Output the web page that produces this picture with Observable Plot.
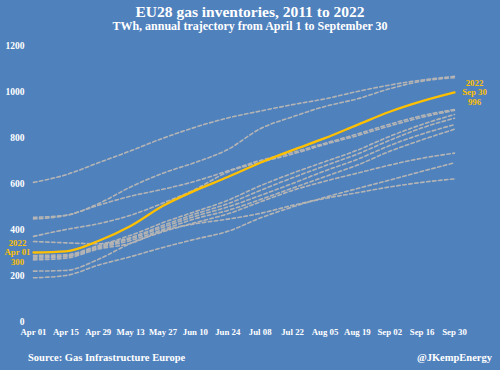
<!DOCTYPE html>
<html>
<head>
<meta charset="utf-8">
<script src="https://cdn.jsdelivr.net/npm/d3@7"></script>
<script src="https://cdn.jsdelivr.net/npm/@observablehq/plot@0.6"></script>
<style>
  html, body { margin: 0; padding: 0; background: #4F81BD; }
  #wrap { position: relative; width: 500px; height: 370px; background: #4F81BD; overflow: hidden;
          font-family: "Liberation Serif", "DejaVu Serif", serif; color: #fff; font-weight: bold; }
  #title { position: absolute; left: 0; width: 500px; top: 2px; text-align: center; font-size: 15.5px; line-height: 20px; }
  #subtitle { position: absolute; left: 0; width: 500px; top: 18px; text-align: center; font-size: 12px; line-height: 16px; }
  #chart { position: absolute; left: 0; top: 36px; }
  #source { position: absolute; left: 28px; top: 350px; font-size: 10.5px; line-height: 16px; }
  #handle { position: absolute; right: 8px; top: 350px; font-size: 10.5px; line-height: 16px; }
</style>
</head>
<body>
<div id="wrap">
  <div id="title">EU28 gas inventories, 2011 to 2022</div>
  <div id="subtitle">TWh, annual trajectory from April 1 to September 30</div>
  <div id="chart"></div>
  <div id="source">Source: Gas Infrastructure Europe</div>
  <div id="handle">@JKempEnergy</div>
</div>
<script>
// Days since April 1 (every two weeks) and their tick labels
const days = [0, 14, 28, 42, 56, 70, 84, 98, 112, 126, 140, 154, 168, 182];
const tickLabels = ["Apr 01","Apr 15","Apr 29","May 13","May 27","Jun 10","Jun 24","Jul 08","Jul 22","Aug 05","Aug 19","Sep 02","Sep 16","Sep 30"];
const yTicks = [0, 200, 400, 600, 800, 1000, 1200];

// Inventories, TWh
const y2011 = [268, 275, 315, 340, 395, 425, 445, 470, 505, 535, 560, 585, 605, 620];
const y2012 = [219, 222, 270, 340, 390, 430, 468, 520, 570, 610, 645, 680, 710, 732];
const y2013 = [275, 282, 320, 352, 400, 447, 483, 530, 580, 630, 680, 740, 790, 836];
const y2014 = [446, 461, 505, 545, 575, 610, 655, 700, 735, 775, 815, 858, 895, 922];
const y2015 = [348, 342, 338, 375, 430, 478, 527, 590, 645, 695, 745, 805, 857, 900];
const y2016 = [370, 400, 425, 462, 515, 575, 650, 692, 728, 770, 808, 850, 888, 918];
const y2017 = [287, 290, 330, 365, 418, 468, 512, 570, 625, 677, 728, 788, 842, 884];
const y2018 = [190, 200, 245, 282, 322, 358, 392, 450, 498, 540, 578, 615, 653, 690];
const y2019 = [453, 462, 512, 585, 645, 692, 748, 838, 890, 935, 968, 1012, 1045, 1060];
const y2020 = [605, 638, 690, 742, 797, 845, 885, 915, 943, 968, 1000, 1028, 1050, 1066];
const y2021 = [281, 285, 325, 360, 410, 458, 498, 548, 600, 655, 705, 765, 815, 856];
const y2022 = [300, 305, 350, 415, 503, 570, 628, 690, 745, 797, 855, 912, 958, 996];

const pastYears = [
  ["2011", y2011], ["2012", y2012], ["2013", y2013], ["2014", y2014], ["2015", y2015],
  ["2016", y2016], ["2017", y2017], ["2018", y2018], ["2019", y2019], ["2020", y2020], ["2021", y2021]
];
const past = pastYears.flatMap(([yr, vals]) => vals.map((v, i) => ({year: yr, day: days[i], value: v})));
const current = y2022.map((v, i) => ({year: "2022", day: days[i], value: v}));
const first = current[0], last = current[current.length - 1];

const gold = "#FFC000";
const fontFamily = "Liberation Serif, DejaVu Serif, serif";

const chart = Plot.plot({
  width: 500,
  height: 304,
  marginLeft: 33,
  marginRight: 46,
  marginTop: 9,
  marginBottom: 19,
  style: {background: "transparent", color: "#fff", fontFamily, fontWeight: "bold", fontSize: "9px", overflow: "visible"},
  x: {domain: [0, 182]},
  y: {domain: [0, 1200]},
  marks: [
    Plot.axisY({ticks: yTicks, tickFormat: d => String(d), tickSize: 0, tickPadding: 9, label: null, fontSize: 9.5}),
    Plot.axisX({ticks: days, tickFormat: (d, i) => tickLabels[i], tickSize: 0, tickPadding: 7, label: null, fontSize: 8.8}),
    Plot.line(past, {x: "day", y: "value", z: "year", stroke: "#b4b4b4", strokeWidth: 1.6,
      strokeDasharray: "3.5,2.5", curve: "monotone-x"}),
    Plot.line(current, {x: "day", y: "value", stroke: gold, strokeWidth: 2.3, curve: "monotone-x"}),
    Plot.text([first], {x: "day", y: "value", dx: -16, text: d => `${d.year}\n${tickLabels[0]}\n${d.value}`,
      fill: gold, fontSize: 8.8, fontWeight: "bold", fontFamily, lineHeight: 1.05}),
    Plot.text([last], {x: "day", y: "value", dx: 20, text: d => `${d.year}\n${tickLabels[tickLabels.length - 1]}\n${d.value}`,
      fill: gold, fontSize: 8.8, fontWeight: "bold", fontFamily, lineHeight: 1.05})
  ]
});
document.getElementById("chart").appendChild(chart);
</script>
</body>
</html>
